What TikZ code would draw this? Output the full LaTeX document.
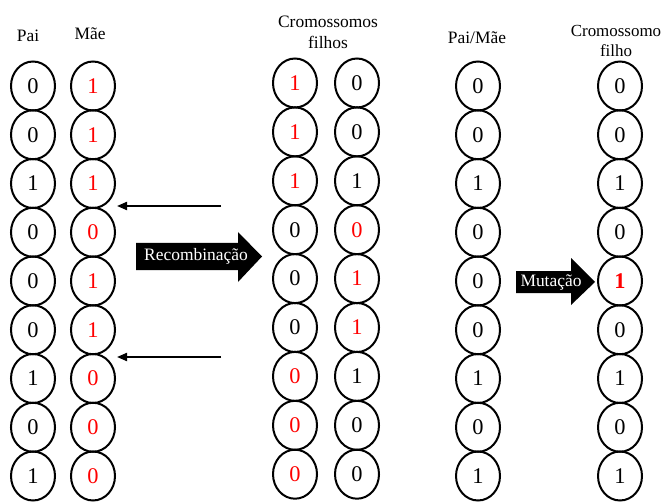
\documentclass[tikz,border=0pt]{standalone}
\usepackage{fontspec}
\setmainfont{Liberation Serif}
\usetikzlibrary{shapes.geometric,arrows.meta}
\begin{document}
\begin{tikzpicture}[x=1bp,y=-1bp,
  gene/.style={ellipse,draw=black,line width=2bp,minimum width=44bp,minimum height=49bp,inner sep=0pt,font=\fontsize{22.5}{22.5}\selectfont},
  lbl/.style={font=\fontsize{17.5}{21}\selectfont,align=center},
  rd/.style={text=red},
  thinarrow/.style={line width=2bp,-{Triangle[length=10bp,width=8bp]}},
  bigarrow/.style={fill=black,draw=none},
  arrowtext/.style={text=white,font=\fontsize{17.5}{17.5}\selectfont,inner sep=0pt}]
\useasboundingbox (0,0) rectangle (664,502);
% labels
\node[lbl] (lpai) at (28,36) {Pai};
\node[lbl] (lmae) at (90,34) {Mãe};
\node[lbl] (lfilhos) at (328,32) {Cromossomos\\filhos};
\node[lbl] (lpm) at (477,38) {Pai/Mãe};
\node[lbl,font=\fontsize{17}{21}\selectfont] (lfilho) at (616,41) {Cromossomo\\filho};
% Pai column
\foreach \v [count=\i from 0] in {0,0,1,0,0,0,1,0,1}
  \node[gene] (p\i) at (33,86+48.75*\i) {\v};
% Mae column (all red)
\foreach \v [count=\i from 0] in {1,1,1,0,1,1,0,0,0}
  \node[gene,rd] (m\i) at (93,86+48.75*\i) {\v};
% Children col 1
\foreach \v/\c [count=\i from 0] in {1/red,1/red,1/red,0/black,0/black,0/black,0/red,0/red,0/red}
  \node[gene,text=\c] (a\i) at (295,83+48.9*\i) {\v};
% Children col 2
\foreach \v/\c [count=\i from 0] in {0/black,0/black,1/black,0/red,1/red,1/red,1/black,0/black,0/black}
  \node[gene,text=\c] (b\i) at (357,83+48.9*\i) {\v};
% Pai/Mae column
\foreach \v [count=\i from 0] in {0,0,1,0,0,0,1,0,1}
  \node[gene] (q\i) at (478,86+48.75*\i) {\v};
% Filho column
\foreach \v [count=\i from 0] in {0,0,1,0,1,0,1,0,1}
  \node[gene] (f\i) at (620,86+48.75*\i) {\ifnum\i=4 \textcolor{red}{\textbf{1}}\else\v\fi};
% thin arrows (crossover points)
\coordinate (s1) at (221,206);
\coordinate (e1) at (117,206);
\coordinate (s2) at (221,357);
\coordinate (e2) at (117,357);
\draw[thinarrow] (s1) -- (e1);
\draw[thinarrow] (s2) -- (e2);
% Recombinacao arrow
\fill[bigarrow] (136,243) -- (238,243) -- (238,232) -- (262,256.5) -- (238,282) -- (238,270) -- (136,270) -- cycle;
\node[arrowtext] (trec) at (196,256.5) {Recombinação};
% Mutacao arrow
\fill[bigarrow] (516,271) -- (571,271) -- (571,258) -- (595,282) -- (571,305) -- (571,293) -- (516,293) -- cycle;
\node[arrowtext] (tmut) at (551,282) {Mutação};
\end{tikzpicture}
\end{document}
